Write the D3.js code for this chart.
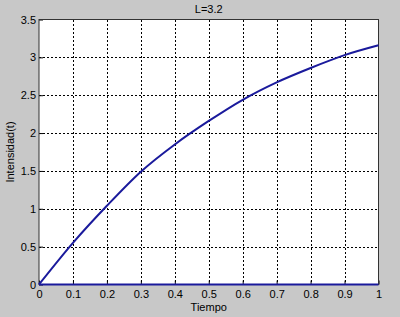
<!DOCTYPE html>
<html><head><meta charset="utf-8">
<script src="https://cdn.jsdelivr.net/npm/d3@7"></script>
<style>html,body{margin:0;padding:0;background:#c8c8c8;}svg{display:block;}</style>
</head><body>
<svg id="chart" width="400" height="317"></svg>
<script>
const tiempo = [0, 0.1, 0.2, 0.3, 0.4, 0.5, 0.6, 0.7, 0.8, 0.9, 1.0];
const intensidad = [0, 0.55, 1.04, 1.49, 1.85, 2.16, 2.44, 2.67, 2.86, 3.03, 3.16];
const cero = [0, 0, 0, 0, 0, 0, 0, 0, 0, 0, 0];
const xTicks = [0, 0.1, 0.2, 0.3, 0.4, 0.5, 0.6, 0.7, 0.8, 0.9, 1];
const yTicks = [0, 0.5, 1, 1.5, 2, 2.5, 3, 3.5];
const title = "L=3.2", xLabel = "Tiempo", yLabel = "Intensidad(t)";

const svg = d3.select("#chart");
const m = {l: 39, r: 378.5, t: 19.5, b: 284.5};
const x = d3.scaleLinear().domain([0, 1]).range([m.l, m.r]);
const y = d3.scaleLinear().domain([0, 3.5]).range([m.b, m.t]);
const font = "'Liberation Sans', Arial, sans-serif";

svg.append("rect").attr("x", m.l).attr("y", m.t).attr("width", m.r - m.l).attr("height", m.b - m.t).attr("fill", "#fff");

// grid
const g = svg.append("g").attr("stroke", "#000").attr("stroke-width", 1).attr("stroke-dasharray", "2,2").attr("shape-rendering", "crispEdges");
g.selectAll(".vx").data(xTicks.slice(1, -1)).join("line")
  .attr("x1", d => Math.round(x(d)) + 0.5).attr("x2", d => Math.round(x(d)) + 0.5)
  .attr("y1", m.t).attr("y2", m.b);
g.selectAll(".hy").data(yTicks.slice(1, -1)).join("line")
  .attr("y1", d => Math.round(y(d)) + 0.5).attr("y2", d => Math.round(y(d)) + 0.5)
  .attr("x1", m.l).attr("x2", m.r);

// axes
const xAx = svg.append("g").attr("transform", `translate(0,${m.b})`)
  .call(d3.axisBottom(x).tickValues(xTicks).tickSize(-4).tickPadding(7).tickFormat(d => d3.format("")(d)));
const yAx = svg.append("g").attr("transform", `translate(${m.l},0)`)
  .call(d3.axisLeft(y).tickValues(yTicks).tickSize(-4).tickPadding(3).tickFormat(d => d3.format("")(d)));
[xAx, yAx].forEach(a => {
  a.select(".domain").remove();
  a.selectAll("line").attr("stroke", "#000");
  a.selectAll("text").attr("font-family", font).attr("font-size", 11).attr("fill", "#000");
});
xAx.selectAll("text").attr("dy", "0.71em").attr("y", 6);
// frame
svg.append("rect").attr("x", m.l).attr("y", m.t).attr("width", m.r - m.l).attr("height", m.b - m.t)
  .attr("fill", "none").attr("stroke", "#333").attr("stroke-width", 1);

// series
const line = d3.line().x((d, i) => x(tiempo[i])).y(d => y(d)).curve(d3.curveMonotoneX);
svg.append("path").datum(cero).attr("d", line).attr("fill", "none").attr("stroke", "#1a1a9c").attr("stroke-width", 2);
svg.append("path").datum(intensidad).attr("d", line).attr("fill", "none").attr("stroke", "#1a1a9c").attr("stroke-width", 2);

// labels
svg.append("text").attr("x", (m.l + m.r) / 2).attr("y", 13).attr("text-anchor", "middle")
  .attr("font-family", font).attr("font-size", 11).text(title);
svg.append("text").attr("x", (m.l + m.r) / 2).attr("y", 311).attr("text-anchor", "middle")
  .attr("font-family", font).attr("font-size", 11).text(xLabel);
svg.append("text").attr("transform", `translate(14,${(m.t + m.b) / 2}) rotate(-90)`).attr("text-anchor", "middle")
  .attr("font-family", font).attr("font-size", 11).text(yLabel);
</script>
</body></html>
